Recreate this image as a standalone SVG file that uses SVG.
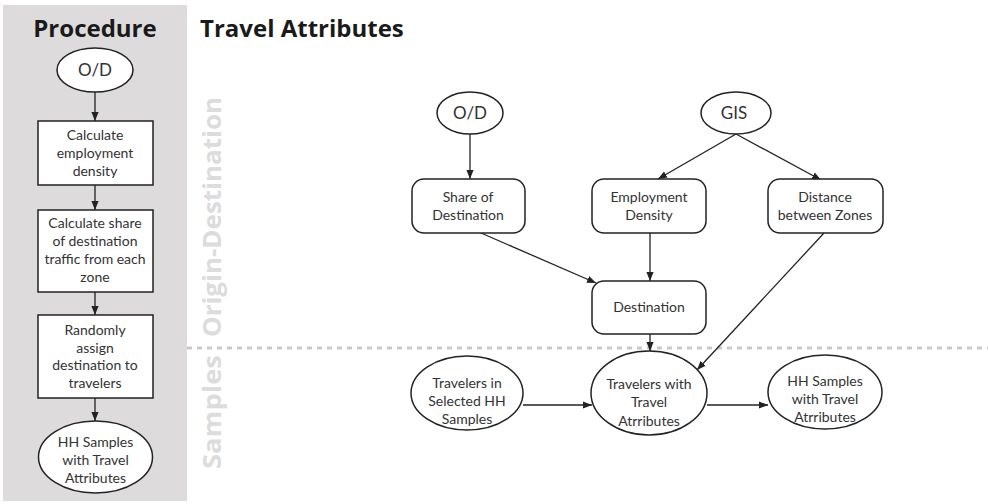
<svg xmlns="http://www.w3.org/2000/svg" width="988" height="504" viewBox="0 0 988 504">
<style>
.t{font-family:Lato,"Open Sans","Liberation Sans",sans-serif;font-size:14px;fill:#333;text-anchor:middle}
.h{font-family:"Open Sans",Lato,"Liberation Sans",sans-serif;font-size:24px;font-weight:bold;fill:#1a1a1a}
.v{font-family:"Open Sans",Lato,"Liberation Sans",sans-serif;font-size:25px;font-weight:bold;fill:#dcdcdc;text-anchor:middle}
.n{fill:#fff;stroke:#222;stroke-width:1.5}
.c{fill:none;stroke:#222;stroke-width:1.3;marker-end:url(#a)}
</style>
<defs>
<marker id="a" viewBox="0 0 10 10" refX="10" refY="5" markerWidth="9" markerHeight="9" markerUnits="userSpaceOnUse" orient="auto">
<path d="M0,1 L10,5 L0,9 Z" fill="#222"/>
</marker>
</defs>
<rect x="3" y="5" width="184" height="496" fill="#dddbdc"/>
<text class="h" x="95" y="37" text-anchor="middle">Procedure</text>
<text class="h" x="200" y="37">Travel Attributes</text>
<text class="v" transform="translate(221,217) rotate(-90)" textLength="240" lengthAdjust="spacingAndGlyphs">Origin-Destination</text>
<text class="v" transform="translate(221,412) rotate(-90)" textLength="114" lengthAdjust="spacingAndGlyphs">Samples</text>
<line x1="187" y1="348" x2="988" y2="348" stroke="#c9c9c9" stroke-width="3" stroke-dasharray="5 5"/>

<g id="connectors">
<line class="c" x1="95" y1="92" x2="95" y2="121"/>
<line class="c" x1="95" y1="185" x2="95" y2="210"/>
<line class="c" x1="95" y1="292" x2="95" y2="315"/>
<line class="c" x1="95" y1="398" x2="95" y2="421"/>
<line class="c" x1="470" y1="134" x2="470" y2="179"/>
<line class="c" x1="736" y1="134" x2="658" y2="179"/>
<line class="c" x1="736" y1="134" x2="821" y2="180"/>
<line class="c" x1="650" y1="233" x2="650" y2="281"/>
<line class="c" x1="481" y1="233" x2="596" y2="283"/>
<line class="c" x1="650" y1="334" x2="650" y2="351"/>
<line class="c" x1="824" y1="233" x2="697" y2="370"/>
<line class="c" x1="523" y1="405" x2="592" y2="405"/>
<line class="c" x1="707" y1="405" x2="768" y2="405"/>
</g>

<g id="p-od"><ellipse class="n" cx="95" cy="70" rx="38" ry="22"/><text class="t" x="95" y="76" style="font-size:17px">O/D</text></g>
<g id="p-emp"><rect class="n" x="38" y="121" width="115" height="64"/>
<text class="t" x="95" y="140">Calculate</text><text class="t" x="95" y="158">employment</text><text class="t" x="95" y="176">density</text></g>
<g id="p-share"><rect class="n" x="38" y="210" width="115" height="82"/>
<text class="t" x="95" y="228">Calculate share</text><text class="t" x="95" y="246">of destination</text><text class="t" x="95" y="264">traffic from each</text><text class="t" x="95" y="282">zone</text></g>
<g id="p-assign"><rect class="n" x="38" y="315" width="115" height="83"/>
<text class="t" x="95" y="335">Randomly</text><text class="t" x="95" y="353">assign</text><text class="t" x="95" y="370">destination to</text><text class="t" x="95" y="388">travelers</text></g>
<g id="p-hh"><ellipse class="n" cx="95.5" cy="457" rx="57" ry="36"/>
<text class="t" x="95.5" y="447">HH Samples</text><text class="t" x="95.5" y="465">with Travel</text><text class="t" x="95.5" y="483">Attributes</text></g>

<g id="od"><ellipse class="n" cx="470" cy="113" rx="33" ry="21"/><text class="t" x="470" y="119" style="font-size:17px">O/D</text></g>
<g id="gis"><ellipse class="n" cx="736" cy="113" rx="35" ry="21"/><text class="t" x="734" y="119" style="font-size:17px">GIS</text></g>
<g id="share"><rect class="n" x="412" y="179" width="113" height="54" rx="12"/>
<text class="t" x="468" y="202">Share of</text><text class="t" x="468" y="220">Destination</text></g>
<g id="empd"><rect class="n" x="592" y="179" width="114" height="54" rx="12"/>
<text class="t" x="649" y="202">Employment</text><text class="t" x="649" y="220">Density</text></g>
<g id="dist"><rect class="n" x="768" y="179" width="115" height="54" rx="12"/>
<text class="t" x="825" y="202">Distance</text><text class="t" x="825" y="220">between Zones</text></g>
<g id="dest"><rect class="n" x="592" y="281" width="114" height="53" rx="12"/>
<text class="t" x="649" y="312">Destination</text></g>
<g id="trav-in"><ellipse class="n" cx="467" cy="393" rx="56" ry="37"/>
<text class="t" x="467" y="388">Travelers in</text><text class="t" x="467" y="406">Selected HH</text><text class="t" x="467" y="424">Samples</text></g>
<g id="trav-with"><ellipse class="n" cx="649" cy="393" rx="58" ry="42"/>
<text class="t" x="649" y="389">Travelers with</text><text class="t" x="649" y="407">Travel</text><text class="t" x="649" y="426">Atrributes</text></g>
<g id="hh"><ellipse class="n" cx="825" cy="392" rx="57" ry="37"/>
<text class="t" x="825" y="386">HH Samples</text><text class="t" x="825" y="404">with Travel</text><text class="t" x="825" y="422">Atrributes</text></g>
</svg>
